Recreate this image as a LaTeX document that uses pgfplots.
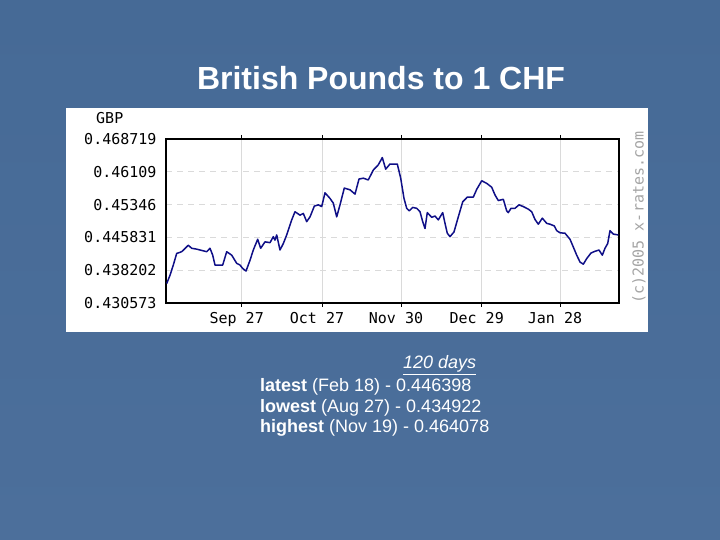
\documentclass[border=0pt]{standalone}
\usepackage{fontspec}
\setmainfont{Liberation Sans}
\newfontfamily\chartmono{DejaVu Sans Mono}
\usepackage{pgfplots}
\pgfplotsset{compat=1.18}
\definecolor{slidetop}{RGB}{70,106,150}
\definecolor{slidemid}{RGB}{93,127,168}
\definecolor{slidebot}{RGB}{76,111,155}
\definecolor{rateline}{RGB}{15,15,135}
\definecolor{gridgray}{RGB}{218,218,218}
\definecolor{copygray}{RGB}{165,165,165}

\begin{document}
\begin{tikzpicture}[x=1pt,y=1pt]
% slide background
\shade[top color=slidetop,middle color=slidemid,bottom color=slidebot] (0,0) rectangle (720,540);
\node[anchor=base,inner sep=0pt,text=white,font=\fontsize{32}{32}\selectfont\bfseries] at (381,450) {British Pounds to 1 CHF};
% white chart panel
\fill[white] (66,208) rectangle (648,432);
\node[anchor=west,inner sep=0pt,font=\fontsize{15}{15}\chartmono] at (96,421.5) {GBP};
\node[rotate=90,text=copygray,font=\fontsize{15}{15}\chartmono] at (639,322.5) {(c)2005 x-rates.com};

\begin{axis}[
  at={(166pt,237pt)},anchor=south west,
  scale only axis,width=453pt,height=164pt,
  xmin=0,xmax=453,ymin=0.430573,ymax=0.468719,
  axis line style={black,line width=1.2pt},
  xtick={75.7,156,235,315.7,394},
  xticklabels={Sep 27,Oct 27,Nov 30,Dec 29,Jan 28},
  ytick={0.438202,0.445831,0.45346,0.46109},
  yticklabels={0.438202,0.445831,0.45346,0.46109},
  extra y ticks={0.430573,0.468719},
  extra y tick labels={0.430573,0.468719},
  extra y tick style={grid=none},
  xmajorgrids,ymajorgrids,
  x grid style={gridgray,line width=1pt},
  y grid style={gridgray,dashed,dash pattern=on 6pt off 5pt,line width=1pt},
  tick label style={font=\fontsize{15}{15}\chartmono},
  xticklabel style={xshift=-5pt,yshift=-2pt},
  yticklabel style={xshift=-6pt},
  xtick align=outside,
  major tick length=4pt,
  xtick style={black,line width=1pt},
  ytick style={draw=none},
  extra y tick style={tick style={draw=none}},
  clip=false,
]
\addplot[rateline,line width=1.5pt,line join=round] coordinates {
(0.7,0.4351)(4,0.4370)(7.3,0.4394)(10.7,0.4421)(15.7,0.4425)(22.3,0.4440)
(25.7,0.4433)(30.7,0.4431)(40.7,0.4425)(44,0.4433)(46.7,0.4417)(49,0.4394)
(56.7,0.4394)(60.7,0.4425)(65.7,0.4417)(70.7,0.4398)(74,0.4394)(76.7,0.4386)
(80,0.4380)(84,0.4405)(87.3,0.4429)(91.7,0.4454)(94.7,0.4433)(99,0.4448)
(104,0.4446)(107.3,0.4460)(109,0.4452)(110.7,0.4464)(114,0.4429)(117.3,0.4444)
(120.7,0.4464)(125.7,0.4499)(129,0.4518)(134,0.4510)(137.3,0.4514)(140.7,0.4495)
(144,0.4506)(148.3,0.4531)(152.3,0.4534)(155.7,0.4530)(159,0.4562)(164,0.4549)
(167.3,0.4538)(170.7,0.4506)(174,0.4534)(178.3,0.4573)(184,0.4569)(189,0.4559)
(193,0.4594)(197.3,0.4596)(202.3,0.4592)(207.3,0.4615)(212.3,0.4627)(216.3,0.4644)
(219.7,0.4617)(224,0.4629)(231.3,0.4629)(234.7,0.4596)(238,0.4549)(240.7,0.4526)
(243.3,0.4520)(246.7,0.4528)(250.7,0.4526)(254,0.4518)(256.7,0.4495)(259,0.4479)
(261.3,0.4516)(265.7,0.4505)(269,0.4508)(272.3,0.4499)(276.7,0.4516)(279,0.4491)
(281.3,0.4468)(284,0.4460)(288,0.4471)(292.3,0.4506)(296.7,0.4541)(301.3,0.4552)
(307.3,0.4552)(310.7,0.4570)(315.7,0.4590)(320.7,0.4584)(325.7,0.4575)(329,0.4557)
(332.3,0.4544)(337.3,0.4547)(340.7,0.4520)(342.3,0.4516)(345,0.4526)(349,0.4526)
(353,0.4534)(357.3,0.4530)(362.3,0.4524)(365.7,0.4518)(369,0.4500)(372.3,0.4489)
(376.3,0.4503)(380.7,0.4491)(384,0.4489)(388.3,0.4485)(390.7,0.4474)(394,0.4469)
(399,0.4468)(404,0.4454)(407.3,0.4436)(410.7,0.4417)(414,0.4401)(417.3,0.4396)
(420.7,0.4409)(425,0.4422)(429,0.4426)(433,0.4429)(436.3,0.4417)(439,0.4433)
(441.7,0.4444)(444,0.4474)(447.3,0.4466)(452.3,0.4464)
};
\end{axis}

% summary text below the panel
\node[anchor=base west,inner sep=0pt,text=white,font=\fontsize{18}{18}\selectfont] at (403,171) {\underline{\itshape 120 days}};
\node[anchor=base west,inner sep=0pt,text=white,font=\fontsize{18}{18}\selectfont] at (260,148) {\textbf{latest} (Feb 18) - 0.446398};
\node[anchor=base west,inner sep=0pt,text=white,font=\fontsize{18}{18}\selectfont] at (260,127) {\textbf{lowest} (Aug 27) - 0.434922};
\node[anchor=base west,inner sep=0pt,text=white,font=\fontsize{18}{18}\selectfont] at (260,107) {\textbf{highest} (Nov 19) - 0.464078};
\end{tikzpicture}
\end{document}
